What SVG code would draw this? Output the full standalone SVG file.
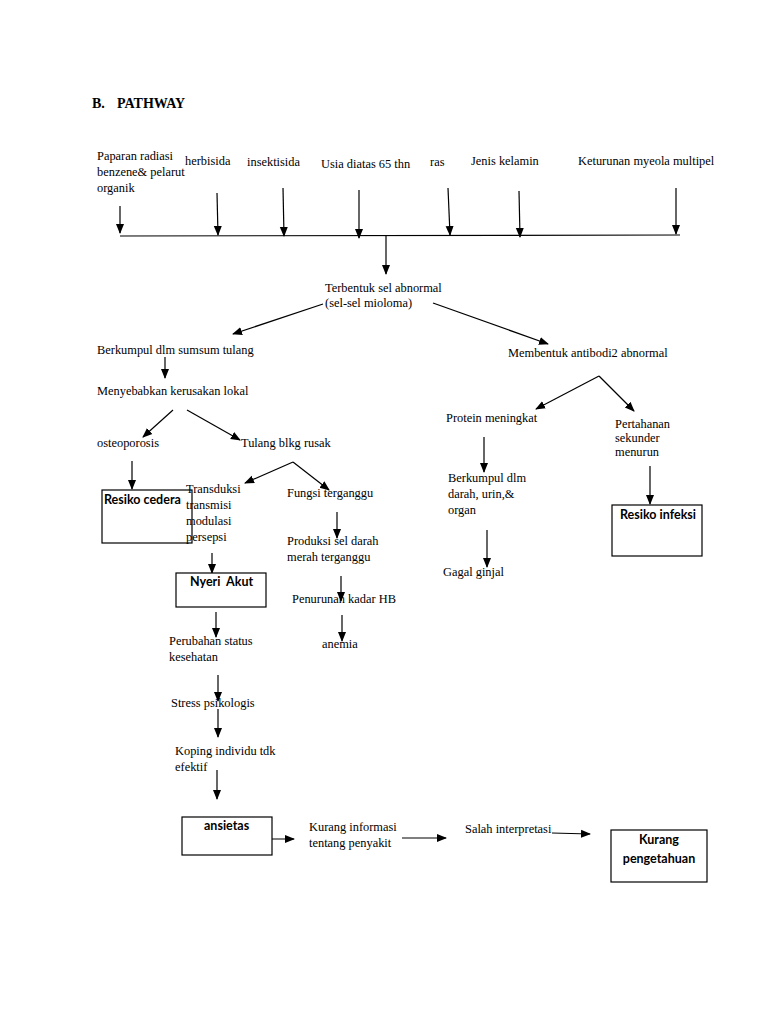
<svg xmlns="http://www.w3.org/2000/svg" width="768" height="1024" viewBox="0 0 768 1024">
<style>
.t{font-family:"Liberation Serif","Times New Roman",serif;font-size:12.4px;fill:#000}
.b{font-family:Lato,"Open Sans","Liberation Sans",sans-serif;font-size:12.5px;font-weight:bold;fill:#000;white-space:pre}
.h{font-family:"Liberation Serif","Times New Roman",serif;font-size:14px;font-weight:bold;fill:#000}
.c line,.c polyline{stroke:#000;stroke-width:1.2;fill:none}
.c .a{marker-end:url(#ah)}
rect.bx{fill:#fff;stroke:#000;stroke-width:1.2}
</style>
<defs>
<marker id="ah" markerUnits="userSpaceOnUse" markerWidth="10" markerHeight="10" viewBox="0 0 10 10" refX="9" refY="5" orient="auto">
<path d="M0,1 L10,5 L0,9 Z" fill="#000"/>
</marker>
</defs>
<rect width="768" height="1024" fill="#fff"/>
<text class="h" x="92" y="108">B.<tspan x="117">PATHWAY</tspan></text>

<g id="connectors" class="c">
<line x1="120" y1="236" x2="680" y2="235"/>
<line class="a" x1="120" y1="206" x2="120" y2="233"/>
<line class="a" x1="217" y1="193" x2="218" y2="235"/>
<line class="a" x1="283" y1="188" x2="284" y2="236"/>
<line class="a" x1="359" y1="190" x2="359" y2="238"/>
<line class="a" x1="448" y1="188" x2="450" y2="235"/>
<line class="a" x1="519" y1="191" x2="520" y2="237"/>
<line class="a" x1="676" y1="188" x2="676" y2="234"/>
<line class="a" x1="386" y1="236" x2="386" y2="274"/>
<line class="a" x1="323" y1="304" x2="233" y2="334"/>
<line class="a" x1="433" y1="303" x2="548" y2="344"/>
<line class="a" x1="165" y1="357" x2="165" y2="378"/>
<line class="a" x1="173" y1="410" x2="143" y2="437"/>
<line class="a" x1="187" y1="410" x2="240" y2="440"/>
<line class="a" x1="132" y1="461" x2="132" y2="489"/>
<line class="a" x1="293" y1="462" x2="245" y2="483"/>
<line class="a" x1="293" y1="462" x2="329" y2="490"/>
<line class="a" x1="212" y1="553" x2="212" y2="573"/>
<line class="a" x1="337" y1="512" x2="337" y2="538"/>
<line class="a" x1="341" y1="576" x2="341" y2="601"/>
<line class="a" x1="342" y1="615" x2="342" y2="641"/>
<line class="a" x1="216" y1="612" x2="216" y2="637"/>
<line class="a" x1="218" y1="675" x2="218" y2="701"/>
<line class="a" x1="218" y1="709" x2="218" y2="737"/>
<line class="a" x1="217" y1="770" x2="217" y2="799"/>
<line class="a" x1="258" y1="839" x2="294" y2="839"/>
<line class="a" x1="402" y1="838" x2="446" y2="838"/>
<line class="a" x1="552" y1="833" x2="590" y2="834"/>
<line class="a" x1="599" y1="376" x2="536" y2="409"/>
<line class="a" x1="599" y1="376" x2="634" y2="411"/>
<line class="a" x1="484" y1="437" x2="484" y2="472"/>
<line class="a" x1="487" y1="530" x2="487" y2="567"/>
<line class="a" x1="650" y1="466" x2="650" y2="504"/>
</g>

<g id="n-paparan"><text class="t" x="97" y="160">Paparan radiasi</text><text class="t" x="97" y="176">benzene&amp; pelarut</text><text class="t" x="97" y="192">organik</text></g>
<g id="n-herbisida"><text class="t" x="185" y="165">herbisida</text></g>
<g id="n-insektisida"><text class="t" x="247" y="166">insektisida</text></g>
<g id="n-usia"><text class="t" x="321" y="168">Usia diatas 65 thn</text></g>
<g id="n-ras"><text class="t" x="430" y="166">ras</text></g>
<g id="n-jenis"><text class="t" x="471" y="165">Jenis kelamin</text></g>
<g id="n-keturunan"><text class="t" x="578" y="165">Keturunan myeola multipel</text></g>
<g id="n-terbentuk"><text class="t" x="325" y="292">Terbentuk sel abnormal</text><text class="t" x="325" y="307">(sel-sel mioloma)</text></g>
<g id="n-berkumpul"><text class="t" x="97" y="354">Berkumpul dlm sumsum tulang</text></g>
<g id="n-menyebabkan"><text class="t" x="97" y="395">Menyebabkan kerusakan lokal</text></g>
<g id="n-osteoporosis"><text class="t" x="97" y="447">osteoporosis</text></g>
<g id="n-tulang"><text class="t" x="241" y="447">Tulang blkg rusak</text></g>
<g id="n-resiko-cedera"><rect class="bx" x="102" y="490" width="90" height="53"/><text class="b" x="104" y="504">Resiko cedera</text></g>
<g id="n-transduksi"><text class="t" x="186" y="493">Transduksi</text><text class="t" x="186" y="509">transmisi</text><text class="t" x="186" y="525">modulasi</text><text class="t" x="186" y="541">persepsi</text></g>
<g id="n-fungsi"><text class="t" x="287" y="497">Fungsi terganggu</text></g>
<g id="n-produksi"><text class="t" x="287" y="545">Produksi sel darah</text><text class="t" x="287" y="561">merah terganggu</text></g>
<g id="n-penurunan"><text class="t" x="292" y="603">Penurunan kadar HB</text></g>
<g id="n-anemia"><text class="t" x="322" y="648">anemia</text></g>
<g id="n-nyeri"><rect class="bx" x="176" y="573" width="90" height="34"/><text class="b" x="190" y="586">Nyeri  Akut</text></g>
<g id="n-perubahan"><text class="t" x="169" y="645">Perubahan status</text><text class="t" x="169" y="661">kesehatan</text></g>
<g id="n-stress"><text class="t" x="171" y="707">Stress psikologis</text></g>
<g id="n-koping"><text class="t" x="175" y="755">Koping individu tdk</text><text class="t" x="175" y="771">efektif</text></g>
<g id="n-ansietas"><rect class="bx" x="182" y="817" width="90" height="38"/><text class="b" x="204" y="830">ansietas</text></g>
<g id="n-kurang-info"><text class="t" x="309" y="831">Kurang informasi</text><text class="t" x="309" y="847">tentang penyakit</text></g>
<g id="n-salah"><text class="t" x="465" y="833">Salah interpretasi</text></g>
<g id="n-kurang-pengetahuan"><rect class="bx" x="611" y="830" width="96" height="52"/><text class="b" x="659" y="844" text-anchor="middle">Kurang</text><text class="b" x="659" y="863" text-anchor="middle">pengetahuan</text></g>
<g id="n-membentuk"><text class="t" x="508" y="357">Membentuk antibodi2 abnormal</text></g>
<g id="n-protein"><text class="t" x="446" y="422">Protein meningkat</text></g>
<g id="n-pertahanan"><text class="t" x="615" y="428">Pertahanan</text><text class="t" x="615" y="442">sekunder</text><text class="t" x="615" y="456">menurun</text></g>
<g id="n-berkumpul-darah"><text class="t" x="448" y="482">Berkumpul dlm</text><text class="t" x="448" y="498">darah, urin,&amp;</text><text class="t" x="448" y="514">organ</text></g>
<g id="n-gagal"><text class="t" x="443" y="576">Gagal ginjal</text></g>
<g id="n-resiko-infeksi"><rect class="bx" x="612" y="505" width="90" height="51"/><text class="b" x="620" y="519">Resiko infeksi</text></g>
</svg>
